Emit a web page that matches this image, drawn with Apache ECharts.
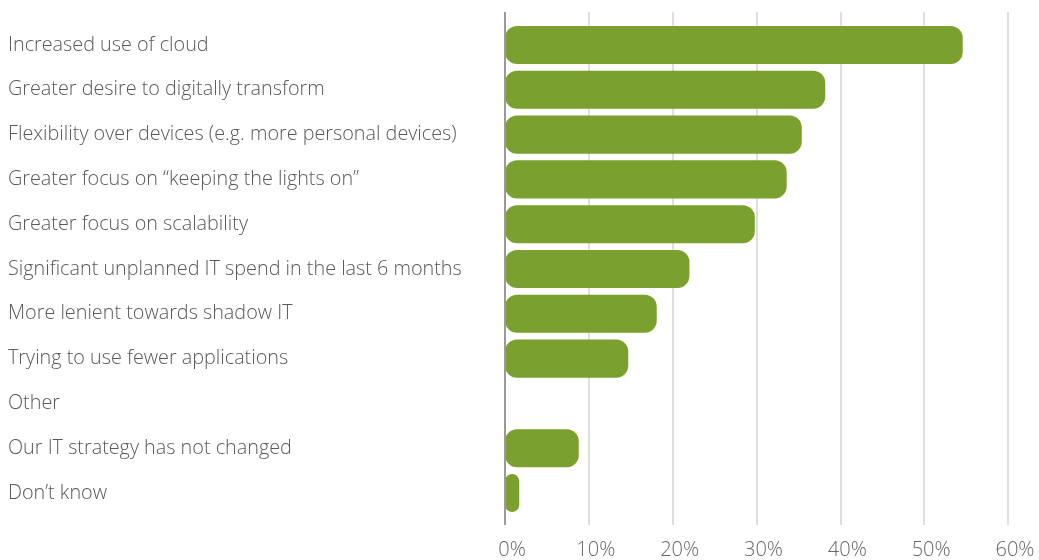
<!DOCTYPE html>
<html><head><meta charset="utf-8">
<script src="https://cdn.jsdelivr.net/npm/echarts@6/dist/echarts.min.js"></script>
<style>html,body{margin:0;padding:0;background:#fff}#c{width:1039px;height:560px}</style>
</head><body><div id="c"></div>
<script>
const categories = [
  "Increased use of cloud",
  "Greater desire to digitally transform",
  "Flexibility over devices (e.g. more personal devices)",
  "Greater focus on \u201ckeeping the lights on\u201d",
  "Greater focus on scalability",
  "Significant unplanned IT spend in the last 6 months",
  "More lenient towards shadow IT",
  "Trying to use fewer applications",
  "Other",
  "Our IT strategy has not changed",
  "Don\u2019t know"
];
const values = [54.6, 38.2, 35.4, 33.6, 29.8, 22.0, 18.1, 14.7, 0, 8.8, 1.7];
const tickMin = 0, tickMax = 60, tickStep = 10;

const font = "'Open Sans', Lato, sans-serif";
const chart = echarts.init(document.getElementById('c'));
chart.setOption({
  animation: false,
  grid: [
    {left: 505, right: 31, top: 12, bottom: 33},
    {left: 505, right: 31, top: 22.6, bottom: 44.6}
  ],
  xAxis: [
    {gridIndex: 0, type: 'value', min: tickMin, max: tickMax, interval: tickStep,
     axisLine: {show: false}, axisTick: {show: false},
     splitLine: {lineStyle: {color: '#d4d4d4', width: 1.5}},
     axisLabel: {formatter: '{value}%', color: '#666', fontSize: 20, fontFamily: font, fontWeight: 300, margin: 15, padding: [0, 0, 0, 14]}},
    {gridIndex: 1, type: 'value', min: tickMin, max: tickMax, interval: tickStep, show: false}
  ],
  yAxis: [
    {gridIndex: 0, type: 'category', data: categories, show: false},
    {gridIndex: 1, type: 'category', data: categories, inverse: true,
     axisLine: {show: false}, axisTick: {show: false},
     axisLabel: {align: 'left', margin: 497, color: '#595959', fontSize: 19.8, fontFamily: font, fontWeight: 300, padding: [0, 0, 4, 0]}}
  ],
  series: [
    {type: 'line', xAxisIndex: 0, yAxisIndex: 0, data: [], silent: true,
     markLine: {symbol: 'none', silent: true, label: {show: false},
       lineStyle: {color: '#9a9a9a', width: 2, type: 'solid'},
       data: [{xAxis: 0}]}},
    {type: 'bar', xAxisIndex: 1, yAxisIndex: 1, data: values, barWidth: '85%',
     itemStyle: {color: '#7aa02f', borderRadius: 12}}
  ]
});
</script></body></html>
